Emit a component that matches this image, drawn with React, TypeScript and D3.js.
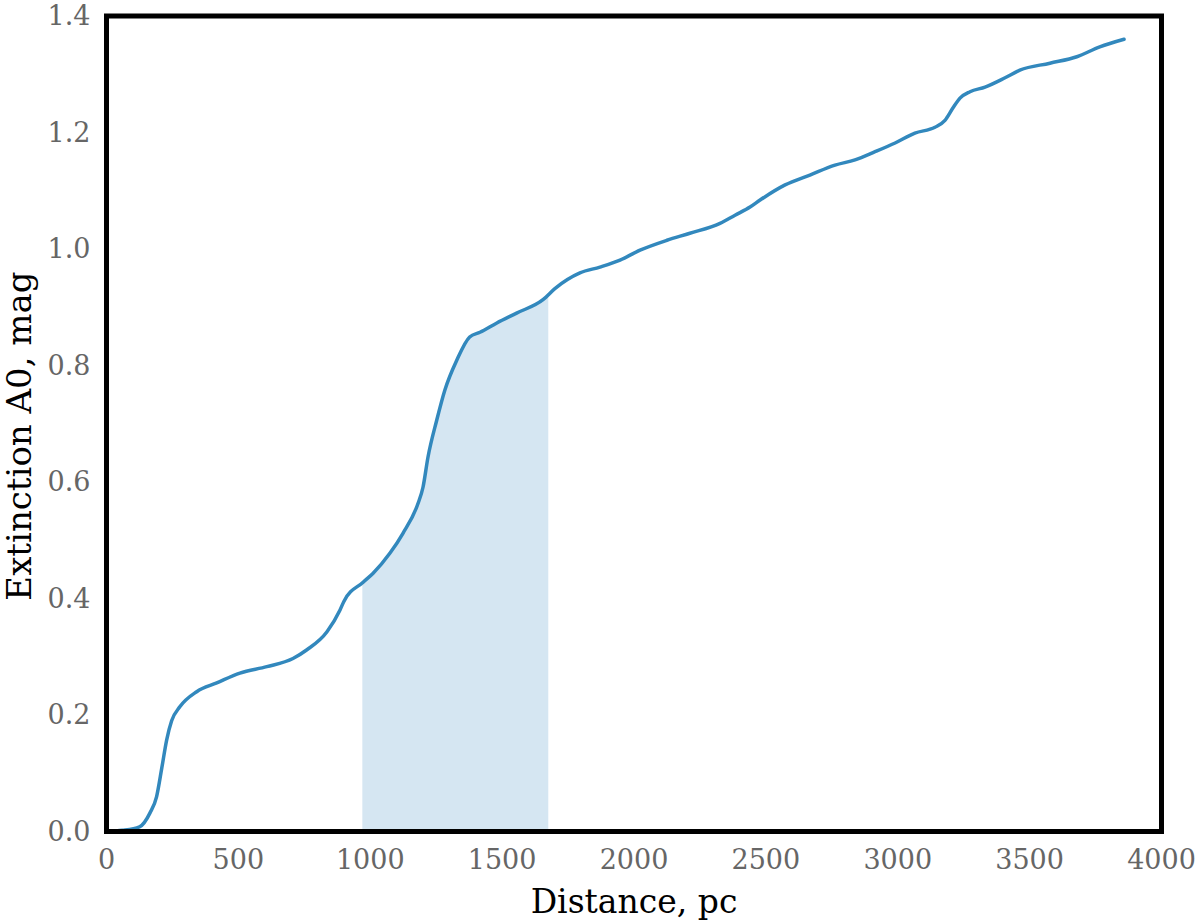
import React, { useEffect, useRef } from "react";
import * as d3 from "d3";

// distance (pc) and cumulative extinction A0 (mag)
const distance = [
  0, 60, 125, 165, 190, 210, 228, 247, 278, 342, 418, 506, 608, 707, 760, 836,
  885, 900, 973, 1010, 1075, 1124, 1181, 1200, 1219, 1252, 1283, 1328, 1377,
  1416, 1480, 1555, 1655, 1700, 1795, 1871, 1947, 2023, 2125, 2212, 2326, 2383,
  2440, 2478, 2573, 2667, 2762, 2838, 2914, 2990, 3065, 3141, 3179, 3209, 3236,
  3274, 3331, 3407, 3463, 3577, 3679, 3766, 3858,
];
const extinction = [
  0, 0.002, 0.008, 0.032, 0.06, 0.11, 0.157, 0.19, 0.214, 0.24, 0.255, 0.272,
  0.283, 0.297, 0.312, 0.343, 0.38, 0.395, 0.428, 0.443, 0.478, 0.512, 0.563,
  0.591, 0.643, 0.706, 0.758, 0.809, 0.849, 0.857, 0.873, 0.89, 0.913, 0.932,
  0.959, 0.969, 0.981, 0.998, 1.015, 1.027, 1.044, 1.058, 1.072, 1.084, 1.11,
  1.127, 1.144, 1.153, 1.167, 1.182, 1.199, 1.209, 1.221, 1.242, 1.259, 1.27,
  1.278, 1.294, 1.307, 1.319, 1.33, 1.347, 1.36,
];
const shadeRange = [970, 1675];
const xTicks = [0, 500, 1000, 1500, 2000, 2500, 3000, 3500, 4000];
const yTicks = [0, 0.2, 0.4, 0.6, 0.8, 1.0, 1.2, 1.4];

export default function App() {
  const ref = useRef<SVGSVGElement>(null);

  useEffect(() => {
    document.body.style.margin = "0";
    const W = 1200;
    const H = 923;
    const margin = { top: 16, right: 38.5, bottom: 91.5, left: 106.5 };
    const width = W - margin.left - margin.right;
    const height = H - margin.top - margin.bottom;

    const svg = d3.select(ref.current);
    svg.selectAll("*").remove();
    const g = svg
      .append("g")
      .attr("transform", `translate(${margin.left}, ${margin.top})`);

    const x = d3.scaleLinear().domain([0, 4000]).range([0, width]);
    const y = d3.scaleLinear().domain([0, 1.4]).range([height, 0]);

    const data = distance.map((d, i) => [d, extinction[i]] as [number, number]);

    // shaded interval under the curve
    g.append("clipPath")
      .attr("id", "shade-clip")
      .append("rect")
      .attr("x", x(shadeRange[0]))
      .attr("y", 0)
      .attr("width", x(shadeRange[1]) - x(shadeRange[0]))
      .attr("height", height);

    const area = d3
      .area<[number, number]>()
      .x((d) => x(d[0]))
      .y0(height)
      .y1((d) => y(d[1]))
      .curve(d3.curveMonotoneX);

    g.append("path")
      .datum(data)
      .attr("d", area)
      .attr("fill", "#d5e6f2")
      .attr("clip-path", "url(#shade-clip)");

    const line = d3
      .line<[number, number]>()
      .x((d) => x(d[0]))
      .y((d) => y(d[1]))
      .curve(d3.curveMonotoneX);

    g.append("path")
      .datum(data)
      .attr("d", line)
      .attr("fill", "none")
      .attr("stroke", "#3288bd")
      .attr("stroke-width", 3.5)
      .attr("stroke-linecap", "round");

    g.append("rect")
      .attr("width", width)
      .attr("height", height)
      .attr("fill", "none")
      .attr("stroke", "#000")
      .attr("stroke-width", 5);

    const font = "'DejaVu Serif', serif";

    g.selectAll(".xtick")
      .data(xTicks)
      .enter()
      .append("text")
      .attr("class", "xtick")
      .attr("x", (d) => x(d))
      .attr("y", height + 37.5)
      .attr("text-anchor", "middle")
      .attr("font-family", font)
      .attr("font-size", 27)
      .attr("fill", "#666")
      .text((d) => d);

    g.selectAll(".ytick")
      .data(yTicks)
      .enter()
      .append("text")
      .attr("class", "ytick")
      .attr("x", -16)
      .attr("y", (d) => y(d) + 9)
      .attr("text-anchor", "end")
      .attr("font-family", font)
      .attr("font-size", 27)
      .attr("fill", "#666")
      .text((d) => d3.format(".1f")(d));

    g.append("text")
      .attr("x", width / 2)
      .attr("y", height + 81)
      .attr("text-anchor", "middle")
      .attr("font-family", font)
      .attr("font-size", 33)
      .attr("fill", "#000")
      .text("Distance, pc");

    g.append("text")
      .attr("transform", "rotate(-90)")
      .attr("x", -420)
      .attr("y", -76)
      .attr("text-anchor", "middle")
      .attr("font-family", font)
      .attr("font-size", 34)
      .attr("fill", "#000")
      .text("Extinction A0, mag");
  }, []);

  return <svg ref={ref} width={1200} height={923} style={{ display: "block" }} />;
}
